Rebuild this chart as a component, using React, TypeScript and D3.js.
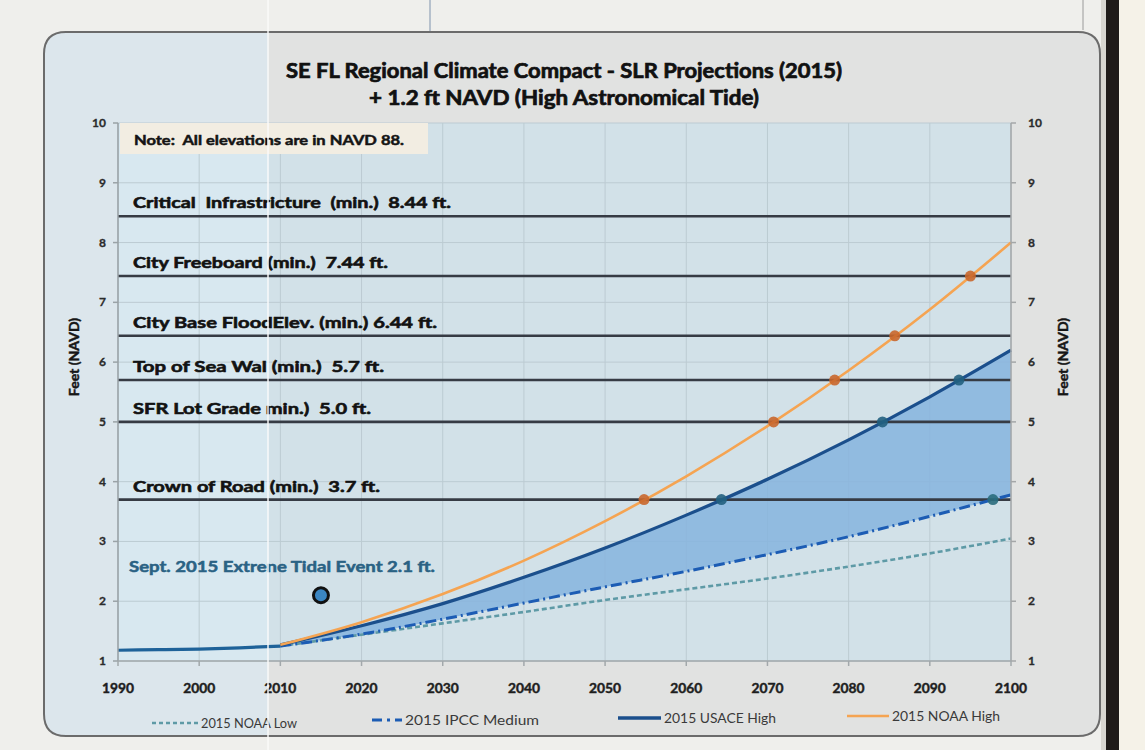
import React from 'react';
import * as d3 from 'd3';

const W = 1145;
const H = 750;

// Projection years and sea level series (ft, NAVD)
const projYears = [2010, 2020, 2030, 2040, 2050, 2060, 2070, 2080, 2090, 2100];
const noaaLow = [1.25, 1.44, 1.63, 1.82, 2.02, 2.2, 2.38, 2.58, 2.8, 3.05];
const ipccMedium = [1.25, 1.45, 1.7, 1.97, 2.24, 2.5, 2.78, 3.08, 3.42, 3.78];
const usaceHigh = [1.27, 1.59, 1.96, 2.4, 2.89, 3.44, 4.04, 4.7, 5.42, 6.2];
const noaaHigh = [1.27, 1.65, 2.12, 2.68, 3.34, 4.09, 4.93, 5.86, 6.88, 8.0];

// Observed levels before the projections start
const histYears = [1990, 1995, 2000, 2005, 2010];
const histValues = [1.18, 1.19, 1.2, 1.22, 1.25];

// Design elevations
const thresholdNames = [
  'Critical  Infrastricture  (min.)  8.44 ft.',
  'City Freeboard (min.)  7.44 ft.',
  'City Base FloodElev. (min.) 6.44 ft.',
  'Top of Sea Wal (min.)  5.7 ft.',
  'SFR Lot Grade min.)  5.0 ft.',
  'Crown of Road (min.)  3.7 ft.',
];
const thresholdValues = [8.44, 7.44, 6.44, 5.7, 5.0, 3.7];

const eventYear = 2015;
const eventValue = 2.1;
const eventLabel = 'Sept. 2015 Extrene Tidal Event 2.1 ft.';

const xTicks = [1990, 2000, 2010, 2020, 2030, 2040, 2050, 2060, 2070, 2080, 2090, 2100];
const yTicks = [1, 2, 3, 4, 5, 6, 7, 8, 9, 10];

const titleLines = [
  'SE FL Regional Climate Compact - SLR Projections (2015)',
  '+ 1.2 ft NAVD (High Astronomical Tide)',
];
const noteText = 'Note:  All elevations are in NAVD 88.';
const axisTitle = 'Feet (NAVD)';
const legendLabels = ['2015 NOAA Low', '2015 IPCC Medium', '2015 USACE High', '2015 NOAA High'];

// ---- layout ----
const plot = { left: 118, right: 1011, top: 123, bottom: 661 };
const FOLD_X = 268;
const thresholdTextWidths = [318, 255, 304, 251, 238, 247];
const legendLayout = [
  { x0: 152, x1: 198, tx: 201, tw: 96, y: 723 },
  { x0: 372, x1: 402, tx: 405, tw: 134, y: 720 },
  { x0: 618, x1: 661, tx: 664, tw: 112, y: 718 },
  { x0: 847, x1: 889, tx: 892, tw: 108, y: 716 },
];

const FONT = 'Lato, "Open Sans", "DejaVu Sans", sans-serif';

const colors = {
  page: '#efefec',
  panel: '#e1e2e1',
  panelLeft: '#dce6ec',
  plot: '#d2e1e8',
  plotLeft: '#d8e8f0',
  grid: '#bccbd2',
  threshold: '#363b44',
  noaaLow: '#5e9aa6',
  ipcc: '#1c5cb4',
  usace: '#1b4f8c',
  noaaHigh: '#f5a452',
  hist: '#1e6299',
  band: '#86b4de',
};

// heavier strokes so the bold faces read like the printed labels
const heavy = (c: string, w = 0.55) => ({ stroke: c, strokeWidth: w, paintOrder: 'stroke' as const });

const x = d3.scaleLinear().domain([1990, 2100]).range([plot.left, plot.right]);
const y = d3.scaleLinear().domain([1, 10]).range([plot.bottom, plot.top]);

type Pt = [number, number];
const zipPts = (xs: number[], ys: number[]): Pt[] => xs.map((v, i) => [v, ys[i]]);

const line = d3
  .line<Pt>()
  .x((d) => x(d[0]))
  .y((d) => y(d[1]))
  .curve(d3.curveMonotoneX);

const band = d3
  .area<number>()
  .x((_, i) => x(projYears[i]))
  .y0((_, i) => y(ipccMedium[i]))
  .y1((_, i) => y(usaceHigh[i]))
  .curve(d3.curveMonotoneX);

// Year at which a series first reaches a given elevation
function crossing(values: number[], level: number): number | null {
  for (let i = 0; i < values.length - 1; i++) {
    const a = values[i];
    const b = values[i + 1];
    if (a < level && b >= level) {
      return projYears[i] + ((level - a) / (b - a)) * (projYears[i + 1] - projYears[i]);
    }
  }
  return null;
}

const markerSeries = [
  { values: noaaHigh, fill: '#c9672c' },
  { values: usaceHigh, fill: '#22617f' },
  { values: ipccMedium, fill: '#2a6d7d' },
];

const panelPath = (() => {
  const x0 = 44, x1 = 1100, y0 = 32, y1 = 736, r = 22;
  return `M${x0 + r},${y0} H${x1 - r} Q${x1},${y0} ${x1},${y0 + r} V${y1 - r} Q${x1},${y1} ${x1 - r},${y1} H${x0 + r} Q${x0},${y1} ${x0},${y1 - r} V${y0 + r} Q${x0},${y0} ${x0 + r},${y0} Z`;
})();

export default function App() {
  const markers: { cx: number; cy: number; fill: string }[] = [];
  markerSeries.forEach((s) => {
    thresholdValues.forEach((t) => {
      const yr = crossing(s.values, t);
      if (yr !== null) markers.push({ cx: x(yr), cy: y(t), fill: s.fill });
    });
  });

  const plotW = plot.right - plot.left;
  const plotH = plot.bottom - plot.top;

  return (
    <svg
      width={W}
      height={H}
      viewBox={`0 0 ${W} ${H}`}
      style={{ position: 'absolute', left: 0, top: 0, display: 'block' }}
      fontFamily={FONT}
    >
      <defs>
        <clipPath id="panel-clip">
          <path d={panelPath} />
        </clipPath>
        <clipPath id="plot-clip">
          <rect x={plot.left} y={plot.top} width={plotW} height={plotH} />
        </clipPath>
      </defs>

      {/* paper */}
      <rect x={0} y={0} width={W} height={H} fill={colors.page} />
      <rect x={1119} y={0} width={W - 1119} height={H} fill="#f5f2e8" />
      <rect x={1106} y={0} width={13} height={H} fill="#1f1b19" />
      <rect x={1101} y={0} width={5} height={H} fill="#d8d6d0" />
      <line x1={430} y1={0} x2={430} y2={32} stroke="#7e93ad" strokeWidth={1} />
      <line x1={1083} y1={0} x2={1083} y2={30} stroke="#9a9a9a" strokeWidth={1} />

      {/* chart panel */}
      <path d={panelPath} fill={colors.panel} />
      <g clipPath="url(#panel-clip)">
        <rect x={0} y={0} width={FOLD_X} height={H} fill={colors.panelLeft} />
      </g>
      <path d={panelPath} fill="none" stroke="#6b6b6b" strokeWidth={2} />

      {/* title */}
      <text x={564} y={78} textAnchor="middle" fontSize={20} fontWeight={700} fill="#111" {...heavy('#111', 0.7)}
        textLength={556} lengthAdjust="spacingAndGlyphs">{titleLines[0]}</text>
      <text x={564} y={105} textAnchor="middle" fontSize={20} fontWeight={700} fill="#111" {...heavy('#111', 0.7)}
        textLength={390} lengthAdjust="spacingAndGlyphs">{titleLines[1]}</text>

      {/* plot background */}
      <rect x={plot.left} y={plot.top} width={plotW} height={plotH} fill={colors.plot} />
      <rect x={plot.left} y={plot.top} width={FOLD_X - plot.left} height={plotH} fill={colors.plotLeft} />

      {/* grid */}
      <g stroke={colors.grid} strokeWidth={1}>
        {xTicks.map((t) => (
          <line key={`gx${t}`} x1={x(t)} x2={x(t)} y1={plot.top} y2={plot.bottom} />
        ))}
        {yTicks.map((t) => (
          <line key={`gy${t}`} x1={plot.left} x2={plot.right} y1={y(t)} y2={y(t)} />
        ))}
      </g>

      {/* note box */}
      <rect x={plot.left + 2} y={plot.top} width={308} height={31} fill="#f2ede2" />
      <text x={134} y={145} fontSize={13.5} fontWeight={700} fill="#141414" style={{ whiteSpace: 'pre' }}
        {...heavy('#141414', 0.5)} textLength={270} lengthAdjust="spacingAndGlyphs">{noteText}</text>

      {/* band between IPCC Medium and USACE High */}
      <path d={band(projYears) || ''} fill={colors.band} opacity={0.85} clipPath="url(#plot-clip)" />

      {/* design elevations */}
      {thresholdValues.map((v, i) => (
        <g key={`th${i}`}>
          <line x1={plot.left} x2={plot.right} y1={y(v)} y2={y(v)} stroke={colors.threshold} strokeWidth={2.6} />
          <text x={133} y={y(v) - 8} fontSize={15.5} fontWeight={700} fill="#121212" style={{ whiteSpace: 'pre' }}
            {...heavy('#121212', 0.6)} textLength={thresholdTextWidths[i]} lengthAdjust="spacingAndGlyphs">
            {thresholdNames[i]}
          </text>
        </g>
      ))}

      {/* series */}
      <path d={line(zipPts(histYears, histValues)) || ''} fill="none" stroke={colors.hist} strokeWidth={3.2} />
      <path d={line(zipPts(projYears, noaaLow)) || ''} fill="none" stroke={colors.noaaLow} strokeWidth={2.6}
        strokeDasharray="5 3" />
      <path d={line(zipPts(projYears, ipccMedium)) || ''} fill="none" stroke={colors.ipcc} strokeWidth={3}
        strokeDasharray="11 4 2 4" />
      <path d={line(zipPts(projYears, usaceHigh)) || ''} fill="none" stroke={colors.usace} strokeWidth={3.2} />
      <path d={line(zipPts(projYears, noaaHigh)) || ''} fill="none" stroke={colors.noaaHigh} strokeWidth={2.6} />

      {/* crossing markers */}
      {markers.map((m, i) => (
        <circle key={`mk${i}`} cx={m.cx} cy={m.cy} r={5.5} fill={m.fill} opacity={0.9} />
      ))}

      {/* Sept. 2015 event */}
      <text x={129} y={572} fontSize={14.5} fontWeight={700} fill="#2a6284" {...heavy('#2a6284', 0.5)}
        textLength={306} lengthAdjust="spacingAndGlyphs">{eventLabel}</text>
      <circle cx={x(eventYear)} cy={y(eventValue)} r={7.5} fill="#3b86c2" stroke="#111" strokeWidth={3} />

      {/* axes */}
      <line x1={plot.left} x2={plot.left} y1={plot.top} y2={plot.bottom} stroke="#9aa2a6" strokeWidth={1.5} />
      <line x1={plot.right} x2={plot.right} y1={plot.top} y2={plot.bottom} stroke="#a4a7a8" strokeWidth={1.5} />
      <line x1={plot.left} x2={plot.right} y1={plot.bottom} y2={plot.bottom} stroke="#a2a8ab" strokeWidth={1.5} />
      {yTicks.map((t) => (
        <g key={`yt${t}`}>
          <line x1={plot.left - 5} x2={plot.left} y1={y(t)} y2={y(t)} stroke="#9aa2a6" strokeWidth={1.5} />
          <line x1={plot.right} x2={plot.right + 5} y1={y(t)} y2={y(t)} stroke="#a4a7a8" strokeWidth={1.5} />
          <text x={106} y={y(t) + 4} textAnchor="end" fontSize={12} fontWeight={700} fill="#2b2b2b"
            {...heavy('#2b2b2b', 0.3)}>{t}</text>
          <text x={1028} y={y(t) + 4} textAnchor="start" fontSize={12} fontWeight={700} fill="#2b2b2b"
            {...heavy('#2b2b2b', 0.3)}>{t}</text>
        </g>
      ))}
      {xTicks.map((t) => (
        <g key={`xt${t}`}>
          <line x1={x(t)} x2={x(t)} y1={plot.bottom} y2={plot.bottom + 5} stroke="#a2a8ab" strokeWidth={1.5} />
          <text x={x(t)} y={693} textAnchor="middle" fontSize={12.5} fontWeight={700} fill="#1e1e1e"
            {...heavy('#1e1e1e', 0.4)} textLength={32} lengthAdjust="spacingAndGlyphs">{t}</text>
        </g>
      ))}

      {/* axis titles */}
      <text transform="translate(79,357) rotate(-90)" textAnchor="middle" fontSize={14} fontWeight={700}
        fill="#161616" {...heavy('#161616', 0.45)}>
        {axisTitle}
      </text>
      <text transform="translate(1068,357) rotate(-90)" textAnchor="middle" fontSize={14} fontWeight={700}
        fill="#161616" {...heavy('#161616', 0.45)}>
        {axisTitle}
      </text>

      {/* legend */}
      {legendLabels.map((lab, i) => {
        const L = legendLayout[i];
        const stroke = [colors.noaaLow, colors.ipcc, colors.usace, colors.noaaHigh][i];
        const dash = ['4 3', '10 5 3 5', undefined, undefined][i];
        const sw = [2.6, 3.2, 3.4, 2.4][i];
        return (
          <g key={`lg${i}`}>
            <line x1={L.x0} x2={L.x1} y1={L.y} y2={L.y} stroke={stroke} strokeWidth={sw} strokeDasharray={dash} />
            <text x={L.tx} y={L.y + 5} fontSize={13} fill="#3a3a3a" textLength={L.tw} lengthAdjust="spacingAndGlyphs">
              {lab}
            </text>
          </g>
        );
      })}

      {/* page fold */}
      <line x1={FOLD_X} x2={FOLD_X} y1={0} y2={H} stroke="#fbfbfb" strokeWidth={1.6} opacity={0.9} />
    </svg>
  );
}
